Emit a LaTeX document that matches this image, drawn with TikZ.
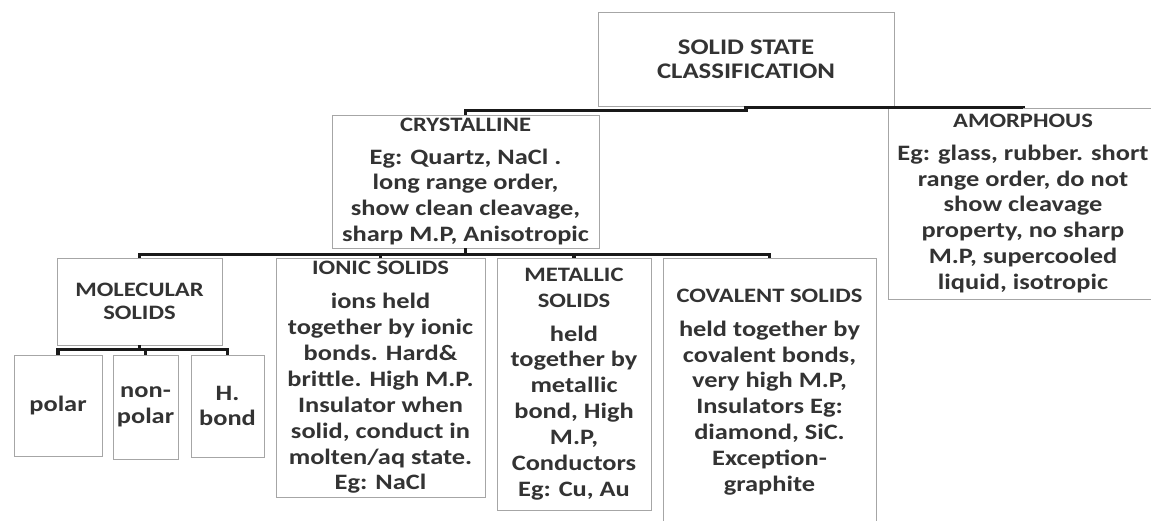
\documentclass[tikz,border=0pt]{standalone}
\usepackage{fontspec}
\setmainfont{Carlito}[FakeStretch=1.2]
\usepackage{tikz}
\usetikzlibrary{shadows}

\newcommand{\hdrfont}{\fontsize{20.5}{23}\bfseries\selectfont}
\newcommand{\bodyfont}{\fontsize{22}{25.9}\bfseries\selectfont}

\begin{document}
\begin{tikzpicture}[
    x=1pt, y=1pt,
    box/.style={
        rectangle,
        draw=black!35,
        fill=white,
        text=black!80,
        align=center,
        inner sep=0pt,
        font=\bodyfont,
        drop shadow={shadow xshift=1pt, shadow yshift=-1.5pt, opacity=0.25}
    },
    bus/.style={draw=black!90, line width=3.3pt}
]
    \useasboundingbox (0,0) rectangle (1151,521);

    % Boxes
    \node[box, minimum width=296, minimum height=94, font=\fontsize{22.3}{24}\bfseries\selectfont] (root) at (746,462) {SOLID STATE\\CLASSIFICATION};
    \node[box, minimum width=267, minimum height=133] (crys) at (465.5,339.5) {{\hdrfont CRYSTALLINE}\\[7pt]Eg: Quartz, NaCl .\\long range order,\\show clean cleavage,\\sharp M.P, Anisotropic};
    \node[box, minimum width=270, minimum height=191] (amor) at (1023,317.5) {{\hdrfont AMORPHOUS}\\[7pt]Eg: glass, rubber. short\\range order, do not\\show cleavage\\property, no sharp\\M.P, supercooled\\liquid, isotropic};
    \node[box, minimum width=165, minimum height=87, font=\hdrfont] (mol) at (139.5,219.5) {MOLECULAR\\SOLIDS};
    \node[box, minimum width=209, minimum height=239] (ionic) at (380.5,143.5) {{\hdrfont IONIC SOLIDS}\\[8pt]ions held\\together by ionic\\bonds. Hard\&\\brittle. High M.P.\\Insulator when\\solid, conduct in\\molten/aq state.\\Eg: NaCl};
    \node[box, minimum width=154, minimum height=252] (metal) at (574,137) {{\hdrfont METALLIC}\\{\hdrfont SOLIDS}\\[8pt]held\\together by\\metallic\\bond, High\\M.P,\\Conductors\\Eg: Cu, Au};
    \node[box, minimum width=213, minimum height=268] (coval) at (769.5,129) {{\hdrfont COVALENT SOLIDS}\\[8pt]held together by\\covalent bonds,\\very high M.P,\\Insulators Eg:\\diamond, SiC.\\Exception-\\graphite};
    \node[box, minimum width=88, minimum height=101] (polar) at (58,115.5) {polar};
    \node[box, minimum width=65, minimum height=104] (nonpolar) at (145.5,114) {non-\\polar};
    \node[box, minimum width=73, minimum height=102] (hbond) at (227.5,115) {H.\\bond};

    % Connectors
    \draw[bus] (root.south) |- ([yshift=4pt]crys.north) -- (crys.north);
    \draw[bus] ([yshift=-1pt]root.south) -| (amor.north);
    \foreach \k in {mol,ionic,metal,coval}
        \draw[bus] (crys.south) |- ([yshift=3pt]\k.north) -- (\k.north);
    \foreach \k in {polar,nonpolar,hbond}
        \draw[bus] (mol.south) |- ([yshift=5pt]\k.north) -- (\k.north);
\end{tikzpicture}
\end{document}
